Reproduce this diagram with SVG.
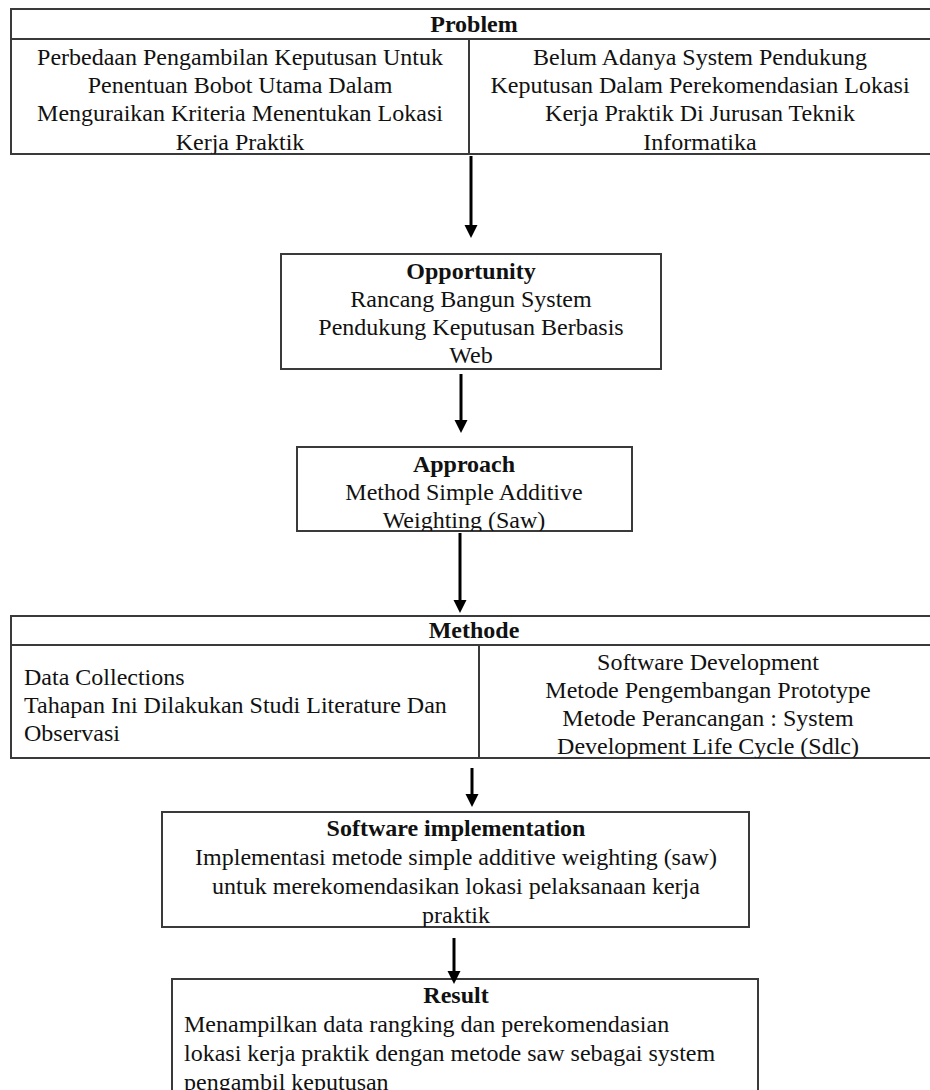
<svg xmlns="http://www.w3.org/2000/svg" width="930" height="1090" viewBox="0 0 930 1090">
<style>
.box{fill:none;stroke:#3a3a3a;stroke-width:2}
.t{font-family:"Liberation Serif","Times New Roman",serif;font-size:24px;fill:#111}
.c{text-anchor:middle}
.b{font-weight:bold}
.arr{stroke:#000;stroke-width:3;fill:none}
</style>
<defs>
<marker id="ah" markerUnits="userSpaceOnUse" markerWidth="14" markerHeight="14" refX="0" refY="6.5" orient="auto">
<path d="M0,0 L13,6.5 L0,13 Z" fill="#000"/>
</marker>
<clipPath id="cp1"><rect x="11" y="39" width="930" height="115"/></clipPath>
<clipPath id="cp3"><rect x="297" y="447" width="335" height="84"/></clipPath>
<clipPath id="cp4"><rect x="11" y="645" width="930" height="113"/></clipPath>
<clipPath id="cp5"><rect x="162" y="812" width="587" height="115"/></clipPath>
</defs>
<g id="problem">
<rect class="box" x="11" y="9" width="930" height="145"/>
<line class="box" x1="11" y1="39" x2="941" y2="39"/>
<line class="box" x1="469" y1="39" x2="469" y2="154"/>
<text class="t c b" x="474" y="32">Problem</text>
<g clip-path="url(#cp1)">
<text class="t c" x="240" y="65">Perbedaan Pengambilan Keputusan Untuk</text>
<text class="t c" x="240" y="93">Penentuan Bobot Utama Dalam</text>
<text class="t c" x="240" y="121">Menguraikan Kriteria Menentukan Lokasi</text>
<text class="t c" x="240" y="150">Kerja Praktik</text>
<text class="t c" x="700" y="65">Belum Adanya System Pendukung</text>
<text class="t c" x="700" y="93">Keputusan Dalam Perekomendasian Lokasi</text>
<text class="t c" x="700" y="121">Kerja Praktik Di Jurusan Teknik</text>
<text class="t c" x="700" y="150">Informatika</text>
</g>
</g>
<g id="opportunity">
<rect class="box" x="281" y="254" width="380" height="115"/>
<text class="t c b" x="471" y="279">Opportunity</text>
<text class="t c" x="471" y="307">Rancang Bangun System</text>
<text class="t c" x="471" y="335">Pendukung Keputusan Berbasis</text>
<text class="t c" x="471" y="363">Web</text>
</g>
<g id="approach">
<rect class="box" x="297" y="447" width="335" height="84"/>
<text class="t c b" x="464" y="472">Approach</text>
<g clip-path="url(#cp3)">
<text class="t c" x="464" y="500">Method Simple Additive</text>
<text class="t c" x="464" y="528">Weighting (Saw)</text>
</g>
</g>
<g id="methode">
<rect class="box" x="11" y="616" width="930" height="142"/>
<line class="box" x1="11" y1="645" x2="941" y2="645"/>
<line class="box" x1="479" y1="645" x2="479" y2="758"/>
<text class="t c b" x="474" y="638">Methode</text>
<g clip-path="url(#cp4)">
<text class="t" x="24" y="685">Data Collections</text>
<text class="t" x="24" y="713">Tahapan Ini Dilakukan Studi Literature Dan</text>
<text class="t" x="24" y="741">Observasi</text>
<text class="t c" x="708" y="670">Software Development</text>
<text class="t c" x="708" y="698">Metode Pengembangan Prototype</text>
<text class="t c" x="708" y="726">Metode Perancangan : System</text>
<text class="t c" x="708" y="754">Development Life Cycle (Sdlc)</text>
</g>
</g>
<g id="software-implementation">
<rect class="box" x="162" y="812" width="587" height="115"/>
<text class="t c b" x="456" y="836">Software implementation</text>
<g clip-path="url(#cp5)">
<text class="t c" x="456" y="865">Implementasi metode simple additive weighting (saw)</text>
<text class="t c" x="456" y="894">untuk merekomendasikan lokasi pelaksanaan kerja</text>
<text class="t c" x="456" y="923">praktik</text>
</g>
</g>
<g id="result">
<rect class="box" x="172" y="979" width="586" height="140"/>
<text class="t c b" x="456" y="1003">Result</text>
<text class="t" x="184" y="1032">Menampilkan data rangking dan perekomendasian</text>
<text class="t" x="184" y="1061">lokasi kerja praktik dengan metode saw sebagai system</text>
<text class="t" x="184" y="1090">pengambil keputusan</text>
</g>
<g id="connectors">
<path class="arr" d="M471,156 V225" marker-end="url(#ah)"/>
<path class="arr" d="M461,374 V420" marker-end="url(#ah)"/>
<path class="arr" d="M460,533 V600" marker-end="url(#ah)"/>
<path class="arr" d="M472,768 V794" marker-end="url(#ah)"/>
<path class="arr" d="M454,938 V971" marker-end="url(#ah)"/>
</g>
</svg>
